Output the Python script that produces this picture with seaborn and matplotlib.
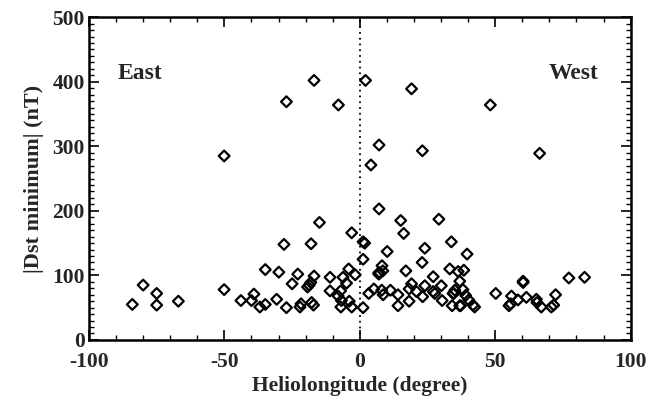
import matplotlib
matplotlib.use("Agg")
import matplotlib.pyplot as plt
import seaborn as sns
import pandas as pd
from matplotlib.ticker import MultipleLocator

longitude = [
    -84.0, -80.0, -75.0, -75.0, -67.0, -50.1, -43.9, -40.0, -39.1, -36.9,
    -34.9, -34.9, -30.7, -29.9, -28.0, -27.1, -25.0, -22.9, -22.1, -21.7,
    -19.3, -18.7, -18.1, -16.9, -18.0, -17.8, -17.1, -14.9, -11.0, -11.0,
    -8.0, -7.1, -6.2, -4.9, -4.1, -7.0, -6.8, -3.9, -3.0, -3.0,
    -1.7, 1.2, 1.2, 1.2, 1.8, 3.3, 5.2, 7.0, 8.2, 7.4,
    7.0, 8.5, 8.1, 8.6, 10.1, 11.3, 14.1, 14.1, 15.1, 16.2,
    17.0, 18.2, 19.1, 18.2, 20.9, 23.0, 24.0, 24.0, 23.2, 27.1,
    27.1, 27.7, 29.2, 30.1, 30.4, 33.2, 33.8, 34.4, 35.1, 34.1,
    36.3, 36.9, 36.9, 38.1, 39.6, 38.4, 37.2, 39.1, 40.2, 41.8,
    42.4, 34.7, 50.2, 55.1, 55.7, 56.0, 58.4, 60.3, 60.3, 61.5,
    65.2, 65.4, 67.0, 70.7, 71.6, 72.3, 77.2, 83.0,
    -50.1, -27.1, -16.9, -7.9, 2.1, 19.1, 48.2, 7.1, 4.1, 23.1,
    66.4, 7.1,
]
dst = [
    55, 85, 72, 54, 60, 78, 61, 61, 71, 51,
    55, 109, 63, 105, 148, 50, 87, 102, 51, 56,
    82, 85, 89, 99, 149, 58, 54, 182, 97, 76,
    68, 76, 97, 88, 110, 51, 61, 60, 51, 166,
    101, 50, 125, 152, 150, 72, 79, 104, 115, 104,
    102, 107, 77, 70, 137, 77, 70, 53, 185, 165,
    107, 79, 87, 60, 75, 120, 142, 84, 67, 98,
    75, 72, 187, 84, 61, 110, 152, 72, 77, 53,
    106, 91, 53, 78, 133, 108, 53, 69, 62, 54,
    51, 72, 72, 53, 56, 68, 62, 91, 89, 66,
    63, 58, 51, 51, 54, 70, 96, 97,
    285, 369, 402, 364, 402, 389, 364, 302, 271, 293,
    289, 203,
]

x_ticks = [-100, -50, 0, 50, 100]
x_ticklabels = ["-100", "-50", "0", "50", "100"]
y_ticks = [0, 100, 200, 300, 400, 500]
y_ticklabels = ["0", "100", "200", "300", "400", "500"]

df = pd.DataFrame({"lon": longitude, "dst": dst})

sns.set_theme(style="ticks")
plt.rcParams["font.family"] = ["Liberation Serif", "DejaVu Serif"]
plt.rcParams["font.weight"] = "bold"
plt.rcParams["axes.unicode_minus"] = False

fig = plt.figure(figsize=(6.51, 3.99), dpi=100)
ax = fig.add_axes([0.1367, 0.148, 0.832, 0.809])

sns.scatterplot(data=df, x="lon", y="dst", ax=ax, marker="D", s=30,
                facecolor="none", edgecolor="black", linewidth=1.6, legend=False)

ax.axvline(0, color="black", linestyle=(0, (1, 2.2)), linewidth=1.3, zorder=0)

ax.set_xlim(-100, 100)
ax.set_ylim(0, 500)
ax.set_xticks(x_ticks)
ax.set_xticklabels(x_ticklabels)
ax.set_yticks(y_ticks)
ax.set_yticklabels(y_ticklabels)
ax.xaxis.set_minor_locator(MultipleLocator(10))
ax.yaxis.set_minor_locator(MultipleLocator(10))
ax.tick_params(which="both", direction="in", top=True, right=True, color="black")
ax.tick_params(which="major", length=7, width=1.2, labelsize=15.5)
ax.tick_params(axis="x", which="major", pad=9)
ax.tick_params(axis="y", which="major", pad=3)
ax.tick_params(which="minor", length=3.5, width=1.0)
for lbl in ax.get_xticklabels() + ax.get_yticklabels():
    lbl.set_fontweight("bold")
for sp in ax.spines.values():
    sp.set_linewidth(1.8)
    sp.set_color("black")

ax.set_xlabel("Heliolongitude (degree)", fontsize=15.5, fontweight="bold")
ax.xaxis.set_label_coords(0.5, -0.113)
ax.set_ylabel("|Dst minimum| (nT)", fontsize=16, fontweight="bold", labelpad=6)

ax.text(-81, 413, "East", fontsize=17, fontweight="bold", ha="center", va="center")
ax.text(79, 413, "West", fontsize=17, fontweight="bold", ha="center", va="center")

fig.savefig("out.png", dpi=100)
